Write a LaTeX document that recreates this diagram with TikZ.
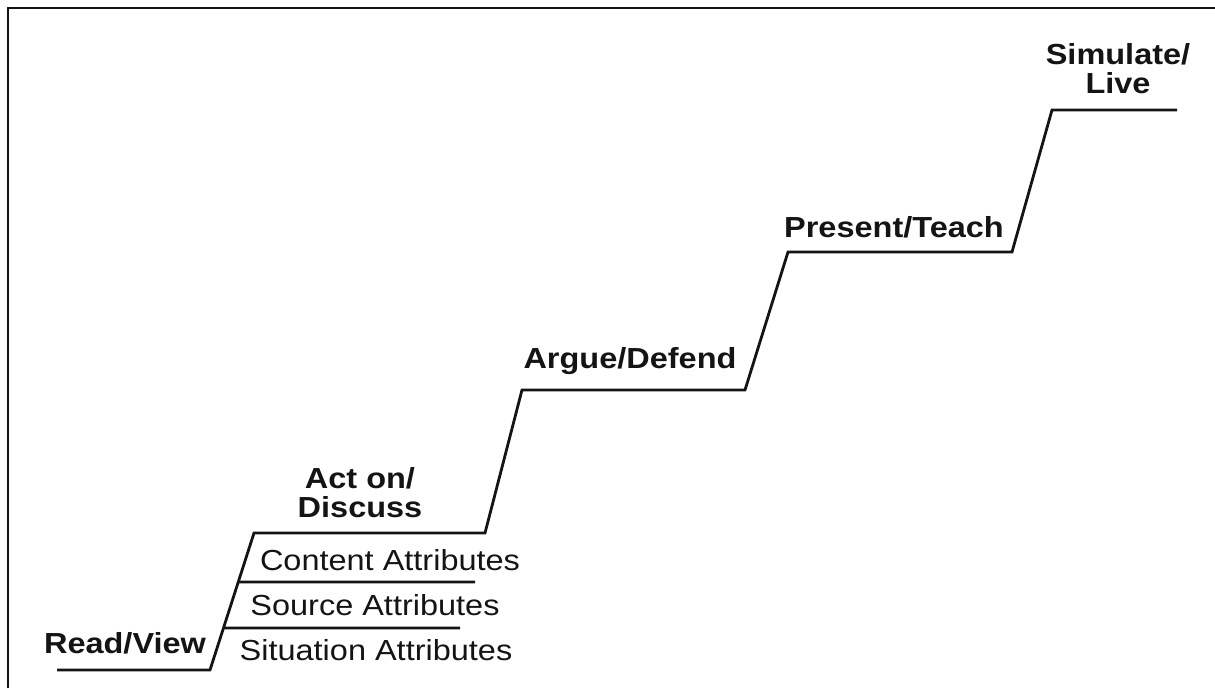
\documentclass[tikz,border=0pt]{standalone}
\usepackage{fontspec}
\setmainfont{Liberation Sans}[FakeStretch=1.12]
\usepackage{tikz}
\usetikzlibrary{positioning,calc}
\definecolor{inkblack}{RGB}{20,20,20}
\tikzset{
  stepname/.style={font=\fontsize{29}{29}\selectfont\bfseries, text=inkblack, inner sep=0pt, align=center},
  attrname/.style={font=\fontsize{29}{29}\selectfont, text=inkblack, inner sep=0pt},
  stairline/.style={draw=inkblack, line width=2.8pt, line join=miter},
  frameline/.style={draw=inkblack, line width=2pt},
}

\begin{document}
\begin{tikzpicture}[x=1pt,y=-1pt]
    \useasboundingbox (0,0) rectangle (1215,688);
    \draw[frameline] (8,688) -- (8,8) -- (1215,8);
    % corners of the stair, bottom to top
    \coordinate (s0) at (57,670);
    \coordinate (s1) at (210,670);
    \coordinate (s2) at (254,533);
    \coordinate (s3) at (485,533);
    \coordinate (s4) at (522,390);
    \coordinate (s5) at (745,390);
    \coordinate (s6) at (788,252);
    \coordinate (s7) at (1012,252);
    \coordinate (s8) at (1052,110);
    \coordinate (s9) at (1177,110);
    \draw[stairline] (s0) -- (s1) -- (s2) -- (s3) -- (s4) -- (s5) -- (s6) -- (s7) -- (s8) -- (s9);
    % sub-steps of the first riser
    \coordinate (srcl) at ($(s1)!0.307!(s2)$);
    \coordinate (srcr) at (460,628);
    \coordinate (conl) at ($(s1)!0.642!(s2)$);
    \coordinate (conr) at (475,582);
    \draw[stairline] (srcl) -- (srcr);
    \draw[stairline] (conl) -- (conr);
    \node[stepname, anchor=base] (readview) at (125,653) {Read/View};
    \node[stepname, anchor=base] (acton) at (360,517) {Act on/\\Discuss};
    \node[stepname, anchor=base] (argue) at (630,368) {Argue/Defend};
    \node[stepname, anchor=base] (present) at (894,237) {Present/Teach};
    \node[stepname, anchor=base] (simulate) at (1118,93) {Simulate/\\Live};
    \node[attrname, anchor=base] (content) at (390,570) {Content Attributes};
    \node[attrname, anchor=base] (source) at (375,615) {Source Attributes};
    \node[attrname, anchor=base] (situation) at (376,660) {Situation Attributes};
\end{tikzpicture}
\end{document}
